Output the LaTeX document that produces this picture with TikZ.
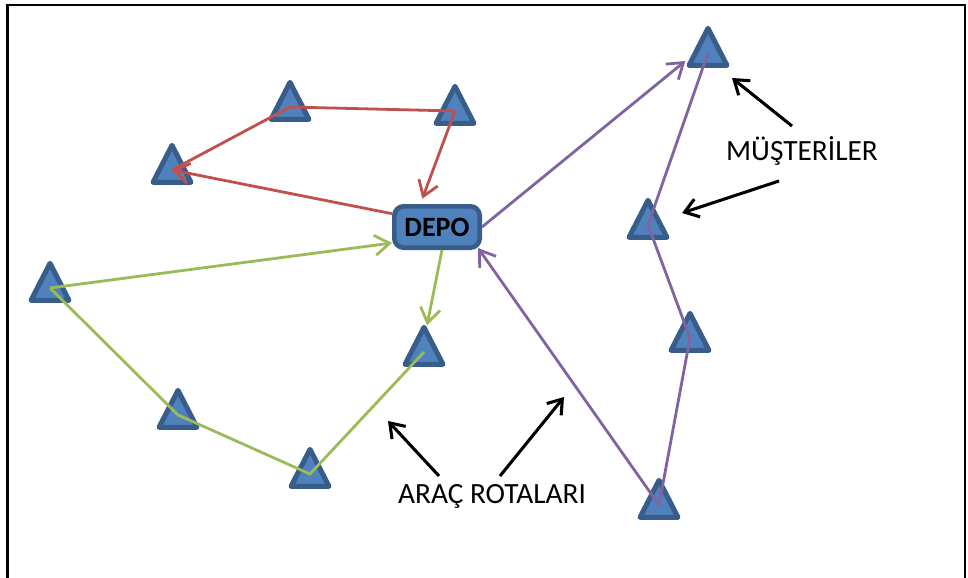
\documentclass[tikz,border=0pt]{standalone}
\usepackage{fontspec}
\setmainfont{Carlito}
\usetikzlibrary{arrows.meta}
\definecolor{custfill}{HTML}{4F81BD}
\definecolor{custline}{HTML}{385D8A}
\definecolor{routered}{HTML}{C0504D}
\definecolor{routegreen}{HTML}{9BBB59}
\definecolor{routepurple}{HTML}{8064A2}
\begin{document}
\begin{tikzpicture}[
x=0.75pt,y=-0.75pt,
font=\fontsize{22}{26}\selectfont,
customer/.style={draw=custline,fill=custfill,line width=3.75pt,line join=round},
depot/.style={rectangle,rounded corners=7pt,draw=custline,fill=custfill,line width=3.5pt,inner sep=0pt,minimum width=64pt,minimum height=31pt,font=\bfseries\fontsize{21}{24}\selectfont},
leg/.style={line width=2.1pt},
route/.style={leg,-{Straight Barb[length=11pt,width=15pt]}},
pointer/.style={line width=2.3pt,-{Straight Barb[length=10pt,width=14pt]}}
]

% Frame
\clip (0,0) rectangle (968,578);
\draw[line width=1.9pt] (7.5,5) rectangle (965,600);

% Draw customers (centroid of each triangle)
\foreach \name/\x/\y in {A/290/107,B/455/111,C/172/170,D/50/288,E/178/415,F/310/474,G/424/352,H/708/53,I/648/225,J/690/338,K/659/505}{
  \coordinate (\name) at (\x,\y);
  \draw[customer] (\x,\y) ++(0,-24.7) -- ++(19,37) -- ++(-38,0) -- cycle;
}

% Draw depot
\node[depot] (depo) at (437,227) {DEPO};

% Red route
\draw[route,routered] ([yshift=10pt]depo.west) -- (C);
\draw[leg,routered] (C) -- (A) -- (B);
\draw[route,routered] (B) -- ([xshift=-11pt,yshift=4pt]depo.north);

% Green route
\draw[route,routegreen] (D) -- ([yshift=-12pt]depo.west);
\draw[leg,routegreen] (D) -- (E) -- (F) -- (G);
\draw[route,routegreen] ([xshift=3.75pt]depo.south) -- ([shift={(2.25pt,20pt)}]G);

% Purple route
\draw[route,routepurple] (depo.east) -- ([shift={(-17pt,-6pt)}]H);
\draw[leg,routepurple] (H) -- (I) -- (J) -- (K);
\draw[route,routepurple] (K) -- ([shift={(-3pt,1.5pt)}]depo.south east);

% Labels
\node[anchor=base] (musteri) at (802,160) {MÜŞTERİLER};
\node[anchor=base] (rota) at (492,503) {ARAÇ ROTALARI};

% Pointers
\coordinate (mtail1) at (792,126);
\coordinate (mtip1) at (732,78);
\coordinate (mtail2) at (779,181);
\coordinate (mtip2) at (682,213);
\coordinate (rtail1) at (439,476);
\coordinate (rtip1) at (388,421);
\coordinate (rtail2) at (500,476);
\coordinate (rtip2) at (564,397);
\draw[pointer] (mtail1) -- (mtip1);
\draw[pointer] (mtail2) -- (mtip2);
\draw[pointer] (rtail1) -- (rtip1);
\draw[pointer] (rtail2) -- (rtip2);

\end{tikzpicture}
\end{document}
